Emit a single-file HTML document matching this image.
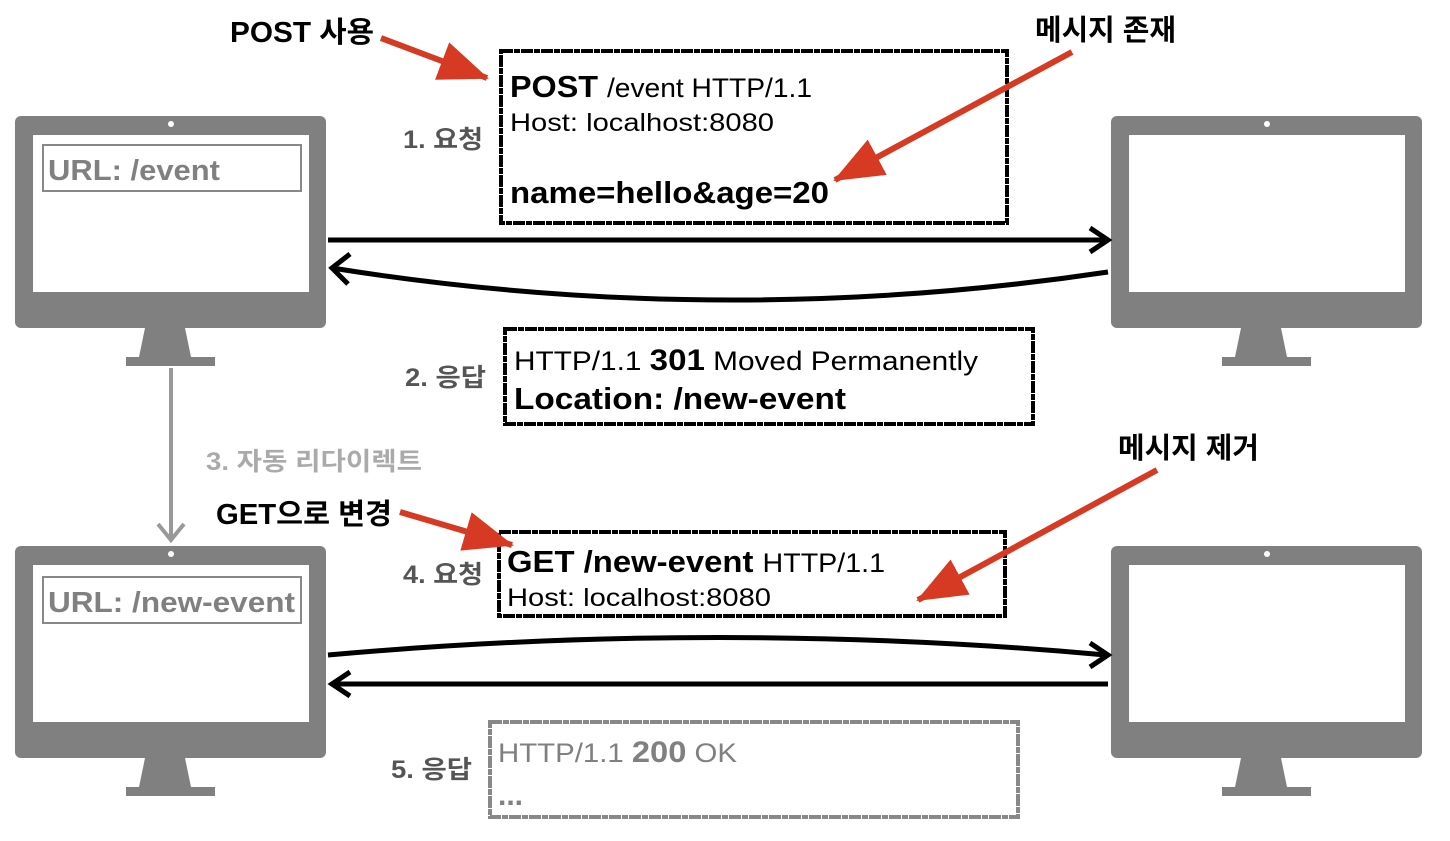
<!DOCTYPE html>
<html><head><meta charset="utf-8"><style>
body{margin:0;background:#fff;}
svg{display:block}
text{font-family:"Liberation Sans","Noto Sans CJK KR",sans-serif;}
</style></head><body>
<svg width="1450" height="841" viewBox="0 0 1450 841">
<defs>
<marker id="bh" markerWidth="10" markerHeight="10" refX="8" refY="5" orient="auto" markerUnits="userSpaceOnUse" viewBox="0 0 10 10"><path d="M0,0 L10,5 L0,10" fill="none" stroke="#000" stroke-width="2"/></marker>
<marker id="rh" markerWidth="50" markerHeight="40" refX="48" refY="20" orient="auto" markerUnits="userSpaceOnUse"><path d="M0,0 L50,20 L0,40 Z" fill="#d63a22"/></marker>
<marker id="gh" markerWidth="32" markerHeight="32" refX="28" refY="16" orient="auto" markerUnits="userSpaceOnUse"><path d="M12,3 L28,16 L12,29" fill="none" stroke="#999" stroke-width="4"/></marker>
<g id="mon">
<rect x="0" y="0" width="311" height="212" rx="6" fill="#808080"/>
<rect x="18" y="19" width="276" height="157" fill="#fff"/>
<circle cx="156" cy="8" r="3" fill="#fff"/>
<path d="M130,212 L170,212 L176,241 L124,241 Z" fill="#808080"/>
<rect x="111" y="241" width="89" height="9" fill="#808080"/>
</g>
</defs>

<use href="#mon" x="15" y="116"/>
<use href="#mon" x="1111" y="116"/>
<use href="#mon" x="15" y="546"/>
<use href="#mon" x="1111" y="546"/>

<rect x="43" y="145" width="258" height="46" fill="none" stroke="#888" stroke-width="2"/>
<text x="48" y="180" font-size="29" font-weight="bold" fill="#808080" textLength="172" lengthAdjust="spacingAndGlyphs">URL: /event</text>
<rect x="43" y="577" width="258" height="46" fill="none" stroke="#888" stroke-width="2"/>
<text x="48" y="612" font-size="29" font-weight="bold" fill="#808080" textLength="247" lengthAdjust="spacingAndGlyphs">URL: /new-event</text>

<rect x="501" y="51" width="506" height="172" fill="none" stroke="#000" stroke-width="4" stroke-dasharray="12 1 6 1"/>
<text x="510" y="97" font-size="31" font-weight="bold" textLength="302" lengthAdjust="spacingAndGlyphs">POST <tspan font-size="27" font-weight="normal">/event HTTP/1.1</tspan></text>
<text x="510" y="131" font-size="25" textLength="264" lengthAdjust="spacingAndGlyphs">Host: localhost:8080</text>
<text x="510" y="203" font-size="31" font-weight="bold" textLength="319" lengthAdjust="spacingAndGlyphs">name=hello&amp;age=20</text>

<rect x="505" y="329" width="528" height="95" fill="none" stroke="#000" stroke-width="4" stroke-dasharray="12 1 6 1"/>
<text x="514" y="370" font-size="27" textLength="464" lengthAdjust="spacingAndGlyphs">HTTP/1.1 <tspan font-weight="bold" font-size="30">301</tspan> Moved Permanently</text>
<text x="514" y="409" font-size="31" font-weight="bold" textLength="332" lengthAdjust="spacingAndGlyphs">Location: /new-event</text>

<rect x="499" y="532" width="506" height="84" fill="none" stroke="#000" stroke-width="4" stroke-dasharray="12 1 6 1"/>
<text x="507" y="572" font-size="31" font-weight="bold" textLength="378" lengthAdjust="spacingAndGlyphs">GET /new-event <tspan font-size="27" font-weight="normal">HTTP/1.1</tspan></text>
<text x="507" y="606" font-size="25" textLength="264" lengthAdjust="spacingAndGlyphs">Host: localhost:8080</text>

<rect x="490" y="722" width="528" height="95" fill="none" stroke="#888" stroke-width="4" stroke-dasharray="12 1 6 1"/>
<text x="498" y="762" font-size="27" fill="#808080" textLength="239" lengthAdjust="spacingAndGlyphs">HTTP/1.1 <tspan font-weight="bold" font-size="30">200</tspan> OK</text>
<text x="498" y="805" font-size="30" font-weight="bold" fill="#808080">...</text>

<text x="403" y="148" font-size="25" font-weight="bold" fill="#555" textLength="80" lengthAdjust="spacingAndGlyphs">1. 요청</text>
<text x="405" y="386" font-size="25" font-weight="bold" fill="#555" textLength="81" lengthAdjust="spacingAndGlyphs">2. 응답</text>
<text x="403" y="583" font-size="25" font-weight="bold" fill="#555" textLength="80" lengthAdjust="spacingAndGlyphs">4. 요청</text>
<text x="391" y="778" font-size="25" font-weight="bold" fill="#555" textLength="81" lengthAdjust="spacingAndGlyphs">5. 응답</text>
<text x="206" y="470" font-size="25" font-weight="bold" fill="#aaa" textLength="216" lengthAdjust="spacingAndGlyphs">3. 자동 리다이렉트</text>
<text x="230" y="42" font-size="29" font-weight="bold" textLength="144" lengthAdjust="spacingAndGlyphs">POST 사용</text>
<text x="1035" y="40" font-size="29" font-weight="bold" textLength="141" lengthAdjust="spacingAndGlyphs">메시지 존재</text>
<text x="1118" y="458" font-size="29" font-weight="bold" textLength="141" lengthAdjust="spacingAndGlyphs">메시지 제거</text>
<text x="216" y="524" font-size="29" font-weight="bold" textLength="176" lengthAdjust="spacingAndGlyphs">GET으로 변경</text>

<g fill="none" stroke="#000" stroke-width="5">
<path d="M328,240 L1106,240"/>
<path d="M1108,272 Q720,330 332,268"/>
<path d="M328,655 Q720,620 1106,655"/>
<path d="M1108,684 L332,684"/>
</g>
<path d="M1090,228 L1108,240 L1090,252 M350,254 L332,268 L348,284 M1090,643 L1108,655 L1090,667 M350,672 L332,684 L350,696" fill="none" stroke="#000" stroke-width="5"/>

<path d="M171,368 L171,540" stroke="#999" stroke-width="4" marker-end="url(#gh)"/>

<g stroke="#d63a22" stroke-width="6" fill="none">
<path d="M381,38 L487,78" marker-end="url(#rh)"/>
<path d="M1072,52 L835,180" marker-end="url(#rh)"/>
<path d="M400,512 L512,545" marker-end="url(#rh)"/>
<path d="M1157,470 L918,600" marker-end="url(#rh)"/>
</g>
</svg>
</body></html>
